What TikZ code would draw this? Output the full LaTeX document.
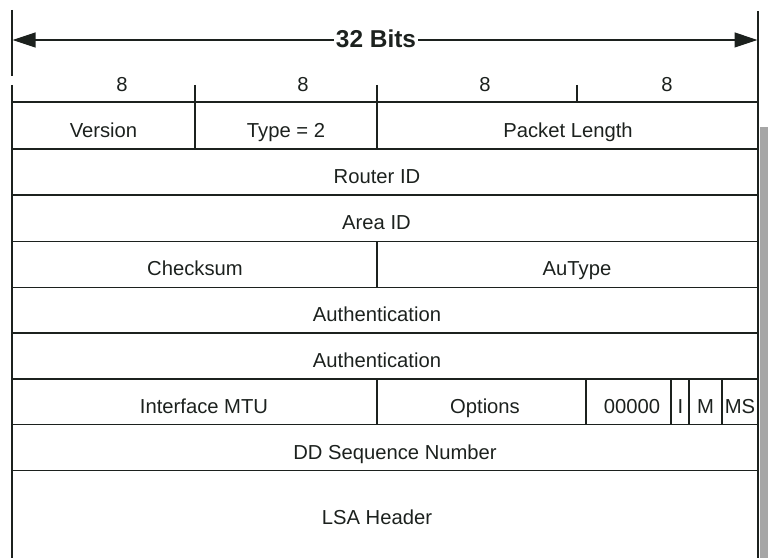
\documentclass[tikz,border=0pt]{standalone}
\usepackage{fontspec}
\setmainfont{Liberation Sans}
\usetikzlibrary{arrows.meta}
\definecolor{ink}{HTML}{1C211E}
\definecolor{edgegray}{HTML}{A6A6A6}
\begin{document}
\begin{tikzpicture}[x=1bp,y=-1bp,
  rule/.style={line width=1.4bp, draw=ink},
  field/.style={anchor=base, font=\fontsize{20.3}{20.3}\selectfont, text=ink, inner sep=0pt},
  widthlabel/.style={anchor=base, font=\fontsize{24.5}{24.5}\selectfont\bfseries, text=ink, inner xsep=2bp, inner ysep=0pt},
  span/.style={line width=1.2bp, draw=ink, -{Triangle[length=23bp,width=15bp]}}]
\useasboundingbox (0,0) rectangle (768,558);

% shaded page edge on the right
\fill[edgegray] (759.5,127) rectangle (768,558);

% outer borders
\draw[rule] (12,10) -- (12,76);
\draw[rule] (12,85) -- (12,558);
\draw[rule] (758,11) -- (758,558);

% byte ticks above the header
\draw[rule] (195,85) -- (195,149);
\draw[rule] (377,85) -- (377,149);
\draw[rule] (577,85) -- (577,102);

% row separators
\foreach \y in {102,149,195,241.5,287.3,333,379,424.3,470.7}
  \draw[rule] (12,\y) -- (758,\y);

% field separators inside rows
\draw[rule] (377,241.5) -- (377,287.3);
\draw[rule] (377,379) -- (377,424.3);
\draw[rule] (586,379) -- (586,424.3);
\draw[rule] (671,379) -- (671,424.3);
\draw[rule] (689,379) -- (689,424.3);
\draw[rule] (722,379) -- (722,424.3);

% overall width
\node[widthlabel] (bits) at (376,47.5) {32 Bits};
\coordinate (leftend) at (12.5,40);
\coordinate (rightend) at (757.5,40);
\draw[span] (bits.west |- leftend) -- (leftend);
\draw[span] (bits.east |- rightend) -- (rightend);

% byte widths
\node[field] (b1) at (122,92) {8};
\node[field] (b2) at (303,92) {8};
\node[field] (b3) at (485,92) {8};
\node[field] (b4) at (667,92) {8};

% fields
\node[field] (version) at (103.5,137.5) {Version};
\node[field] (type) at (286,137.5) {Type = 2};
\node[field] (plen) at (568,137.5) {Packet Length};
\node[field] (rid) at (377,183.5) {Router ID};
\node[field] (aid) at (376.5,229.5) {Area ID};
\node[field] (csum) at (195,276) {Checksum};
\node[field] (autype) at (577,276) {AuType};
\node[field] (auth1) at (377,321.5) {Authentication};
\node[field] (auth2) at (377,367.5) {Authentication};
\node[field] (mtu) at (204,413) {Interface MTU};
\node[field] (opts) at (485,413) {Options};
\node[field] (zeros) at (632,413) {00000};
\node[field] (fi) at (680.5,413) {I};
\node[field] (fm) at (705.5,413) {M};
\node[field] (fms) at (740,413) {MS};
\node[field] (ddseq) at (395,459.5) {DD Sequence Number};
\node[field] (lsa) at (377,524) {LSA Header};
\end{tikzpicture}
\end{document}
